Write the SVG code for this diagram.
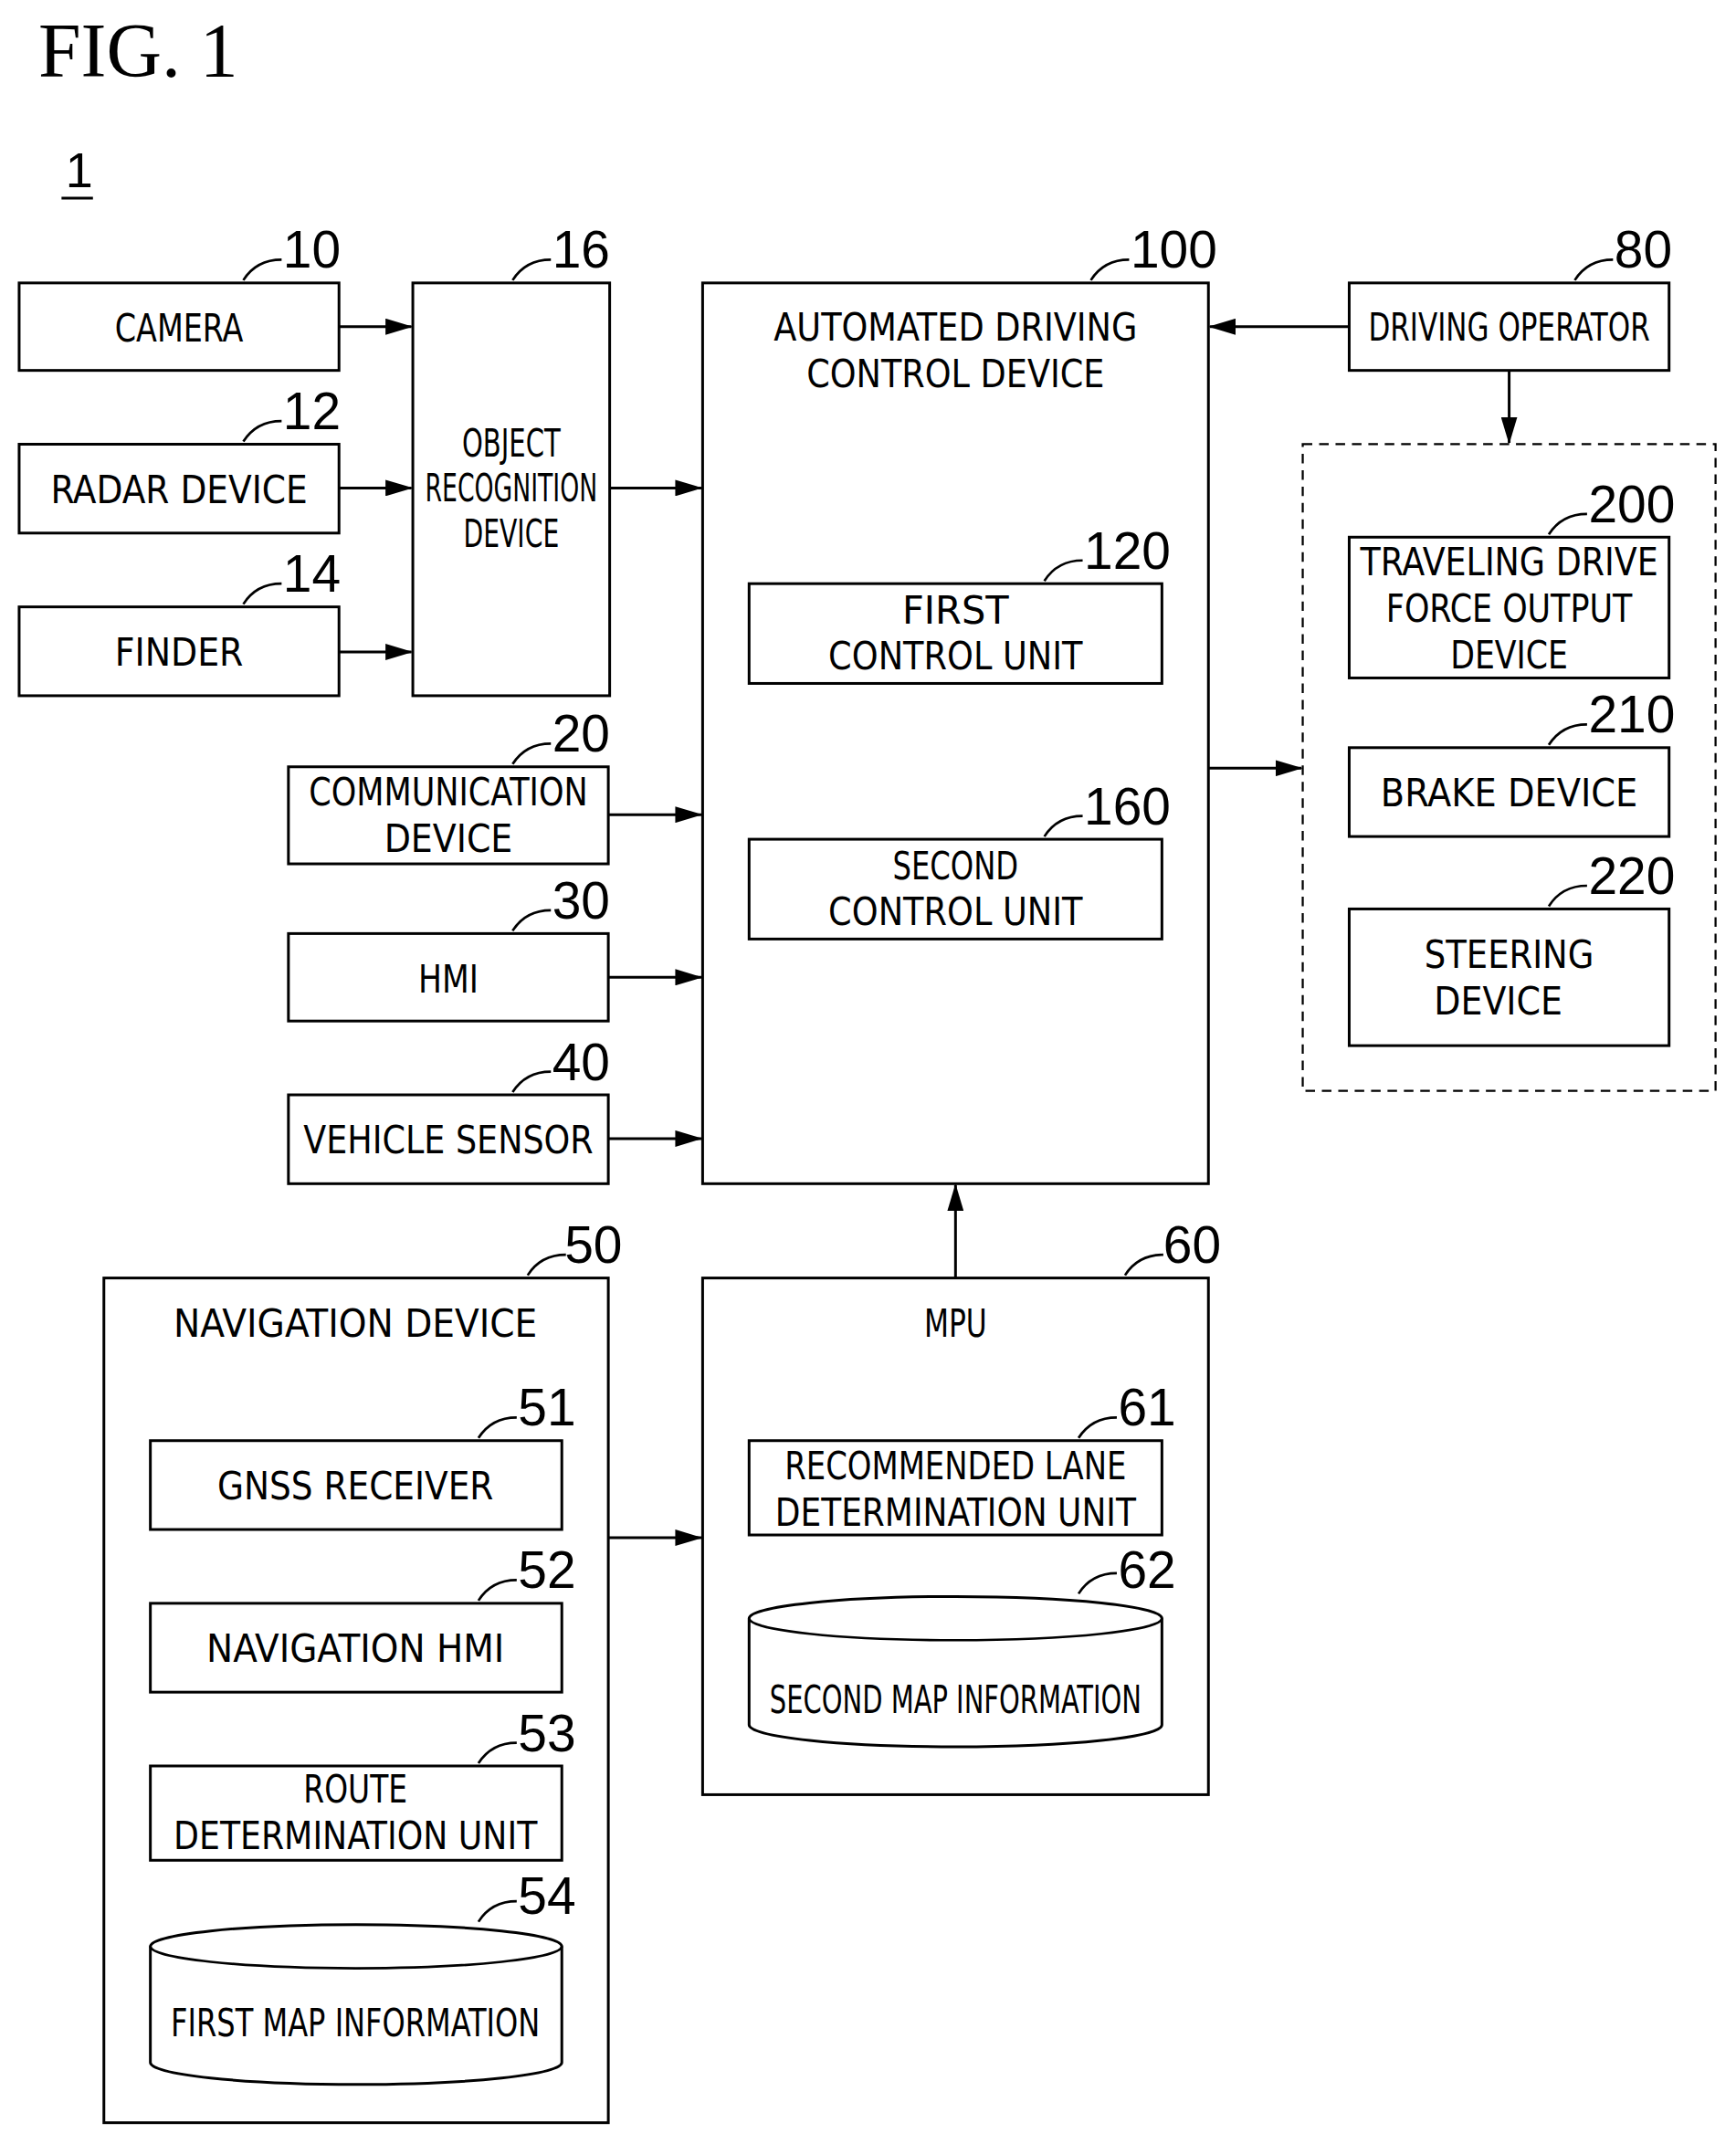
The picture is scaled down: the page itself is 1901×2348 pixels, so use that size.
<svg xmlns="http://www.w3.org/2000/svg" width="1901" height="2348" viewBox="0 0 1901 2348">
<style>
.b{fill:#fff;stroke:#000;stroke-width:2}
.t{font-family:"DejaVu Sans Condensed","DejaVu Sans",sans-serif;font-size:29px;text-anchor:middle}
.n{font-family:"Liberation Sans",sans-serif;font-size:38px}
.l{fill:none;stroke:#000;stroke-width:1.8}
.a{fill:none;stroke:#000;stroke-width:2;marker-end:url(#ar)}
</style>
<defs><marker id="ar" markerWidth="20" markerHeight="12" refX="19" refY="6" orient="auto" markerUnits="userSpaceOnUse"><path d="M0,0 L20,6 L0,12 Z"/></marker></defs>
<rect width="1901" height="2348" fill="#fff"/>
<g transform="scale(1.4969)">
<text x="28" y="56" font-family="Liberation Serif,serif" font-size="56">FIG.  1</text>
<text x="48" y="137" font-family="Liberation Sans,sans-serif" font-size="36">1</text>
<line x1="45" y1="145" x2="68" y2="145" stroke="#000" stroke-width="2"/>
<g id="n10"><rect class="b" x="14" y="207" width="234" height="64"/><text class="t" x="131" y="250" textLength="94" lengthAdjust="spacingAndGlyphs">CAMERA</text><path class="l" d="M178,205 C185,194 195,190 206,190"/><text class="n" x="207" y="196">10</text></g>
<g id="n12"><rect class="b" x="14" y="325" width="234" height="65"/><text class="t" x="131" y="368" textLength="188" lengthAdjust="spacingAndGlyphs">RADAR DEVICE</text><path class="l" d="M178,323 C185,312 195,308 206,308"/><text class="n" x="207" y="314">12</text></g>
<g id="n14"><rect class="b" x="14" y="444" width="234" height="65"/><text class="t" x="131" y="487" textLength="94" lengthAdjust="spacingAndGlyphs">FINDER</text><path class="l" d="M178,442 C185,431 195,427 206,427"/><text class="n" x="207" y="433">14</text></g>
<g id="n16"><rect class="b" x="302" y="207" width="144" height="302"/><text class="t" x="374" y="334" font-size="26" textLength="72" lengthAdjust="spacingAndGlyphs">OBJECT</text><text class="t" x="374" y="367" font-size="26" textLength="126" lengthAdjust="spacingAndGlyphs">RECOGNITION</text><text class="t" x="374" y="400" font-size="26" textLength="70" lengthAdjust="spacingAndGlyphs">DEVICE</text><path class="l" d="M375,205 C382,194 392,190 403,190"/><text class="n" x="404" y="196">16</text></g>
<g id="n20"><rect class="b" x="211" y="561" width="234" height="71"/><text class="t" x="328" y="589" textLength="204" lengthAdjust="spacingAndGlyphs">COMMUNICATION</text><text class="t" x="328" y="623" textLength="94" lengthAdjust="spacingAndGlyphs">DEVICE</text><path class="l" d="M375,559 C382,548 392,544 403,544"/><text class="n" x="404" y="550">20</text></g>
<g id="n30"><rect class="b" x="211" y="683" width="234" height="64"/><text class="t" x="328" y="726" textLength="44" lengthAdjust="spacingAndGlyphs">HMI</text><path class="l" d="M375,681 C382,670 392,666 403,666"/><text class="n" x="404" y="672">30</text></g>
<g id="n40"><rect class="b" x="211" y="801" width="234" height="65"/><text class="t" x="328" y="844" textLength="212" lengthAdjust="spacingAndGlyphs">VEHICLE SENSOR</text><path class="l" d="M375,799 C382,788 392,784 403,784"/><text class="n" x="404" y="790">40</text></g>
<g id="n100"><rect class="b" x="514" y="207" width="370" height="659"/><text class="t" x="699" y="249" textLength="266" lengthAdjust="spacingAndGlyphs">AUTOMATED DRIVING</text><text class="t" x="699" y="283" textLength="218" lengthAdjust="spacingAndGlyphs">CONTROL DEVICE</text><path class="l" d="M798,205 C805,194 815,190 826,190"/><text class="n" x="827" y="196">100</text></g>
<g id="n120"><rect class="b" x="548" y="427" width="302" height="73"/><text class="t" x="699" y="456" textLength="78" lengthAdjust="spacingAndGlyphs">FIRST</text><text class="t" x="699" y="490" textLength="186" lengthAdjust="spacingAndGlyphs">CONTROL UNIT</text><path class="l" d="M764,425 C771,414 781,410 792,410"/><text class="n" x="793" y="416">120</text></g>
<g id="n160"><rect class="b" x="548" y="614" width="302" height="73"/><text class="t" x="699" y="643" textLength="92" lengthAdjust="spacingAndGlyphs">SECOND</text><text class="t" x="699" y="677" textLength="186" lengthAdjust="spacingAndGlyphs">CONTROL UNIT</text><path class="l" d="M764,612 C771,601 781,597 792,597"/><text class="n" x="793" y="603">160</text></g>
<g id="n80"><rect class="b" x="987" y="207" width="234" height="64"/><text class="t" x="1104" y="249" textLength="206" lengthAdjust="spacingAndGlyphs">DRIVING OPERATOR</text><path class="l" d="M1152,205 C1159,194 1169,190 1180,190"/><text class="n" x="1181" y="196">80</text></g>
<g id="grp"><rect x="953" y="325" width="302" height="473" fill="none" stroke="#000" stroke-width="1.5" stroke-dasharray="7,5"/></g>
<g id="n200"><rect class="b" x="987" y="393" width="234" height="103"/><text class="t" x="1104" y="421" textLength="218" lengthAdjust="spacingAndGlyphs">TRAVELING DRIVE</text><text class="t" x="1104" y="455" textLength="180" lengthAdjust="spacingAndGlyphs">FORCE OUTPUT</text><text class="t" x="1104" y="489" textLength="86" lengthAdjust="spacingAndGlyphs">DEVICE</text><path class="l" d="M1133,391 C1140,380 1150,376 1161,376"/><text class="n" x="1162" y="382">200</text></g>
<g id="n210"><rect class="b" x="987" y="547" width="234" height="65"/><text class="t" x="1104" y="590" textLength="188" lengthAdjust="spacingAndGlyphs">BRAKE DEVICE</text><path class="l" d="M1133,545 C1140,534 1150,530 1161,530"/><text class="n" x="1162" y="536">210</text></g>
<g id="n220"><rect class="b" x="987" y="665" width="234" height="100"/><text class="t" x="1104" y="708" textLength="124" lengthAdjust="spacingAndGlyphs">STEERING</text><text class="t" x="1096" y="742" textLength="94" lengthAdjust="spacingAndGlyphs">DEVICE</text><path class="l" d="M1133,663 C1140,652 1150,648 1161,648"/><text class="n" x="1162" y="654">220</text></g>
<g id="n50"><rect class="b" x="76" y="935" width="369" height="618"/><text class="t" x="260" y="978" textLength="266" lengthAdjust="spacingAndGlyphs">NAVIGATION DEVICE</text><path class="l" d="M386,933 C393,922 403,918 414,918"/><text class="n" x="413" y="924">50</text></g>
<g id="n51"><rect class="b" x="110" y="1054" width="301" height="65"/><text class="t" x="260" y="1097" textLength="202" lengthAdjust="spacingAndGlyphs">GNSS RECEIVER</text><path class="l" d="M350,1052 C357,1041 367,1037 378,1037"/><text class="n" x="379" y="1043">51</text></g>
<g id="n52"><rect class="b" x="110" y="1173" width="301" height="65"/><text class="t" x="260" y="1216" textLength="218" lengthAdjust="spacingAndGlyphs">NAVIGATION HMI</text><path class="l" d="M350,1171 C357,1160 367,1156 378,1156"/><text class="n" x="379" y="1162">52</text></g>
<g id="n53"><rect class="b" x="110" y="1292" width="301" height="69"/><text class="t" x="260" y="1319" textLength="76" lengthAdjust="spacingAndGlyphs">ROUTE</text><text class="t" x="260" y="1353" textLength="266" lengthAdjust="spacingAndGlyphs">DETERMINATION UNIT</text><path class="l" d="M350,1290 C357,1279 367,1275 378,1275"/><text class="n" x="379" y="1281">53</text></g>
<g id="n54"><path class="b" d="M110,1424 A150.5,16 0 0 1 411,1424 L411,1509 A150.5,16 0 0 1 110,1509 Z"/><path class="l" d="M110,1424 A150.5,16 0 0 0 411,1424"/><text class="t" x="260" y="1490" font-size="27" textLength="270" lengthAdjust="spacingAndGlyphs">FIRST MAP INFORMATION</text><path class="l" d="M350,1406 C357,1395 367,1391 378,1391"/><text class="n" x="379" y="1400">54</text></g>
<g id="n60"><rect class="b" x="514" y="935" width="370" height="378"/><text class="t" x="699" y="978" textLength="46" lengthAdjust="spacingAndGlyphs">MPU</text><path class="l" d="M823,933 C830,922 840,918 851,918"/><text class="n" x="851" y="924">60</text></g>
<g id="n61"><rect class="b" x="548" y="1054" width="302" height="69"/><text class="t" x="699" y="1082" textLength="250" lengthAdjust="spacingAndGlyphs">RECOMMENDED LANE</text><text class="t" x="699" y="1116" textLength="264" lengthAdjust="spacingAndGlyphs">DETERMINATION UNIT</text><path class="l" d="M789,1052 C796,1041 806,1037 817,1037"/><text class="n" x="818" y="1043">61</text></g>
<g id="n62"><path class="b" d="M548,1184 A151,16 0 0 1 850,1184 L850,1262 A151,16 0 0 1 548,1262 Z"/><path class="l" d="M548,1184 A151,16 0 0 0 850,1184"/><text class="t" x="699" y="1253" font-size="27" textLength="272" lengthAdjust="spacingAndGlyphs">SECOND MAP INFORMATION</text><path class="l" d="M789,1166 C796,1155 806,1151 817,1151"/><text class="n" x="818" y="1162">62</text></g>
<g id="connectors">
<line class="a" x1="248" y1="239" x2="301" y2="239"/>
<line class="a" x1="248" y1="357" x2="301" y2="357"/>
<line class="a" x1="248" y1="477" x2="301" y2="477"/>
<line class="a" x1="446" y1="357" x2="513" y2="357"/>
<line class="a" x1="445" y1="596" x2="513" y2="596"/>
<line class="a" x1="445" y1="715" x2="513" y2="715"/>
<line class="a" x1="445" y1="833" x2="513" y2="833"/>
<line class="a" x1="987" y1="239" x2="885" y2="239"/>
<line class="a" x1="1104" y1="271" x2="1104" y2="324"/>
<line class="a" x1="884" y1="562" x2="952" y2="562"/>
<line class="a" x1="699" y1="935" x2="699" y2="867"/>
<line class="a" x1="445" y1="1125" x2="513" y2="1125"/>
</g>
</g>
</svg>
